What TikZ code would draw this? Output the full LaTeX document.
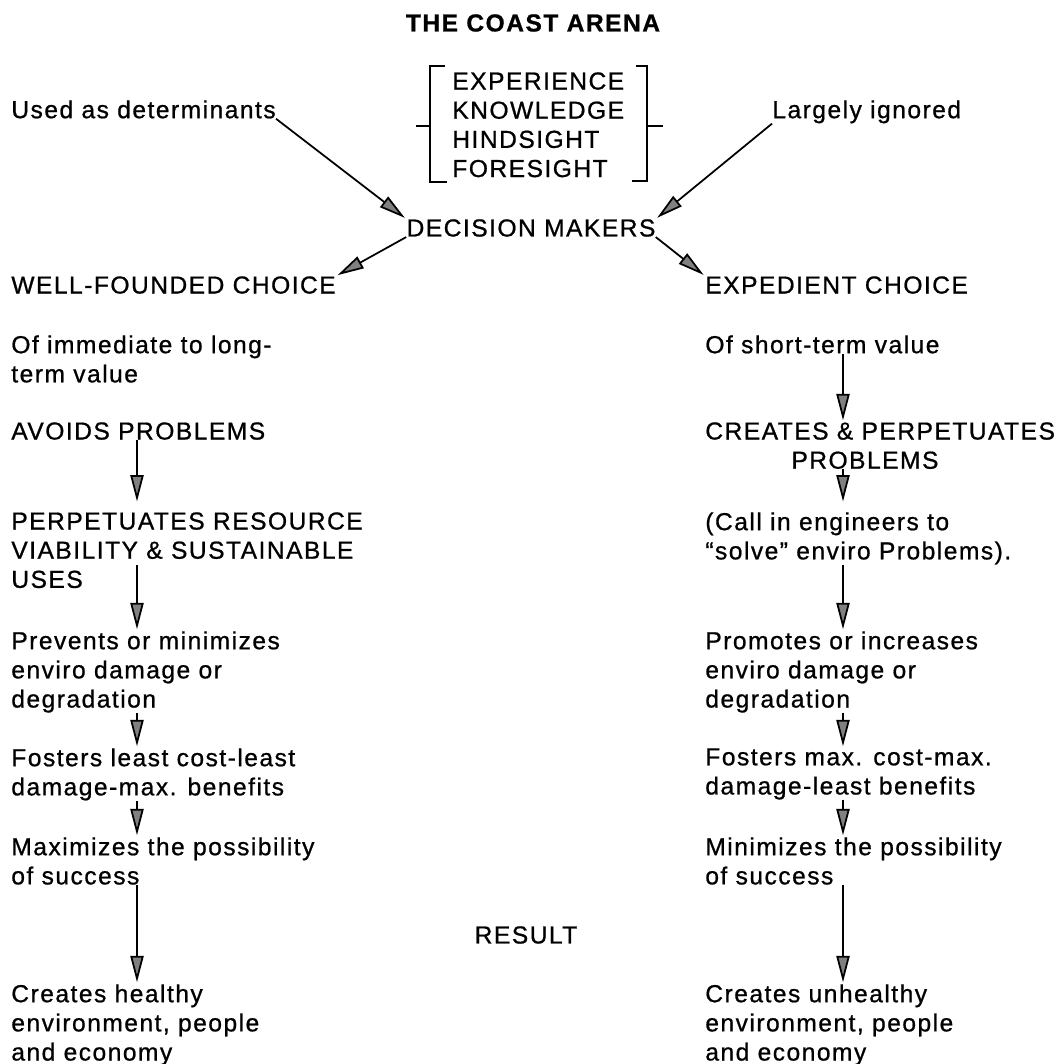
\documentclass[tikz,border=0pt]{standalone}
\usepackage{fontspec}
\setmainfont{Liberation Sans}[LetterSpace=6,FakeBold=0.8]
\usetikzlibrary{arrows.meta,calc}

\begin{document}
\begin{tikzpicture}[x=0.02cm,y=-0.02cm]
        \useasboundingbox (0,0) rectangle (1064,1064);

        \coordinate (colL) at (137,0);
        \coordinate (colR) at (843,0);

        \node[font=\bfseries\fontsize{14}{16.6}\selectfont] (title) at (533,23) {THE COAST ARENA};

        \begin{scope}[every node/.style={anchor=north west,align=left,inner sep=0pt,
            font=\fontsize{14}{16.6}\selectfont}]
          \node (used)      at (11,100)  {Used as determinants};
          \node (ignored)   at (772,100) {Largely ignored};
          \node (know)      at (452,72)  {EXPERIENCE\\KNOWLEDGE\\HINDSIGHT\\FORESIGHT};
          \node[anchor=center] (dm) at (531,228) {DECISION MAKERS};
          \node (wf)        at (11,276)  {WELL-FOUNDED CHOICE};
          \node (exp)       at (705,276) {EXPEDIENT CHOICE};
          \node (longval)   at (11,335)  {Of immediate to long-\\term value};
          \node (shortval)  at (705,335) {Of short-term value};
          \node (avoids)    at (11,422)  {AVOIDS PROBLEMS};
          \node (creates)   at (705,422) {CREATES \& PERPETUATES\\\hspace*{49pt}PROBLEMS};
          \node (perp)      at (11,512)  {PERPETUATES RESOURCE\\VIABILITY \& SUSTAINABLE\\USES};
          \node (engineers) at (705,512) {(Call in engineers to\\``solve'' enviro Problems).};
          \node (prevents)  at (11,631)  {Prevents or minimizes\\enviro damage or\\degradation};
          \node (promotes)  at (705,631) {Promotes or increases\\enviro damage or\\degradation};
          \node (leastcost) at (11,748)  {Fosters least cost-least\\damage-max. benefits};
          \node (maxcost)   at (705,748) {Fosters max. cost-max.\\damage-least benefits};
          \node (maxim)     at (11,837)  {Maximizes the possibility\\of success};
          \node (minim)     at (705,837) {Minimizes the possibility\\of success};
          \node[anchor=center] (result) at (526,935) {RESULT};
          \node (healthy)   at (11,984)  {Creates healthy\\environment, people\\and economy};
          \node (unhealthy) at (705,984) {Creates unhealthy\\environment, people\\and economy};
        \end{scope}

        \begin{scope}[line width=1.1pt]
          \draw (445,66) -- (430,66) -- (430,182) -- (447,182);
          \draw (416,126) -- (430,126);
          \draw (636,66) -- (647,66) -- (647,181) -- (632,181);
          \draw (647,126) -- (663,126);
        \end{scope}

        \begin{scope}[every edge/.style={draw,line width=1pt,shorten >=1pt,
            -{Triangle[length=15pt,width=7.5pt,fill=black!50]}}]
          \path (used.south east)    edge (dm.north west);
          \path (ignored.south west) edge (dm.north east);
          \path (dm.south west)      edge (wf.north east);
          \path (dm.south east)      edge (exp.north west);

          \path (avoids.south -| colL)   edge[shorten >=6pt] (perp.north -| colL);
          \path ($(perp.south -| colL)+(0,-23)$) edge (prevents.north -| colL);
          \path (prevents.south -| colL)  edge (leastcost.north -| colL);
          \path (leastcost.south -| colL) edge (maxim.north -| colL);
          \path (maxim.south -| colL)     edge (healthy.north -| colL);

          \path (shortval.south -| colR)  edge (creates.north -| colR);
          \path (creates.south -| colR)   edge[shorten >=6pt] (engineers.north -| colR);
          \path (engineers.south -| colR) edge (promotes.north -| colR);
          \path (promotes.south -| colR)  edge (maxcost.north -| colR);
          \path (maxcost.south -| colR)   edge (minim.north -| colR);
          \path (minim.south -| colR)     edge (unhealthy.north -| colR);
        \end{scope}

      \end{tikzpicture}
\end{document}
